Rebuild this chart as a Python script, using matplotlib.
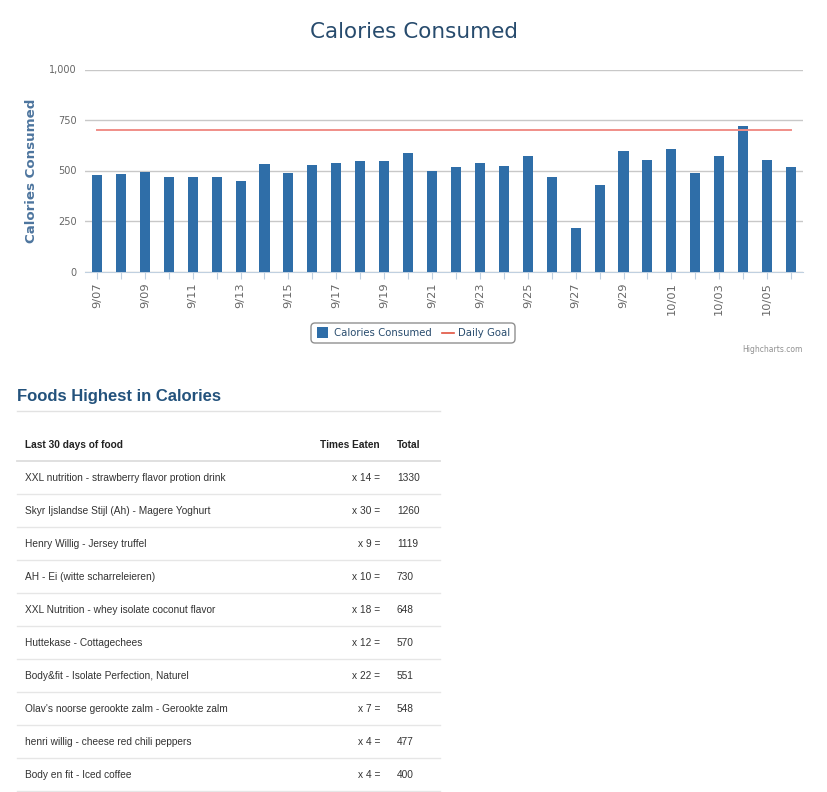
import matplotlib
matplotlib.use("Agg")
import matplotlib.pyplot as plt
from matplotlib.lines import Line2D
from matplotlib.patches import FancyBboxPatch, Rectangle
from matplotlib.ticker import FuncFormatter

# daily calories, 9/07 .. 10/06
dates = ["9/07", "9/08", "9/09", "9/10", "9/11", "9/12", "9/13", "9/14", "9/15", "9/16",
         "9/17", "9/18", "9/19", "9/20", "9/21", "9/22", "9/23", "9/24", "9/25", "9/26",
         "9/27", "9/28", "9/29", "9/30", "10/01", "10/02", "10/03", "10/04", "10/05", "10/06"]
calories = [479, 483, 492, 467, 470, 470, 446, 530, 487, 525,
            536, 548, 546, 587, 497, 516, 536, 521, 571, 470,
            215, 427, 597, 554, 604, 487, 574, 718, 554, 516]
daily_goal = 700

foods = ["XXL nutrition - strawberry flavor protion drink",
         "Skyr Ijslandse Stijl (Ah) - Magere Yoghurt",
         "Henry Willig - Jersey truffel",
         "AH - Ei (witte scharreleieren)",
         "XXL Nutrition - whey isolate coconut flavor",
         "Huttekase - Cottagechees",
         "Body&fit - Isolate Perfection, Naturel",
         "Olav's noorse gerookte zalm - Gerookte zalm",
         "henri willig - cheese red chili peppers",
         "Body en fit - Iced coffee"]
times_eaten = [14, 30, 9, 10, 18, 12, 22, 7, 4, 4]
totals = [1330, 1260, 1119, 730, 648, 570, 551, 548, 477, 400]

W, H = 828, 792
BAR = "#2f6ea8"
GOAL = "#f08e88"
TITLE = "#274b6d"

fig = plt.figure(figsize=(W / 100, H / 100), dpi=100)
fig.patch.set_facecolor("white")

# overlay axes in pixel coordinates for the page parts
page = fig.add_axes([0, 0, 1, 1])
page.set_xlim(0, W)
page.set_ylim(H, 0)
page.axis("off")

# chart
ax = fig.add_axes([85 / W, 1 - 271.5 / H, 718 / W, 202 / H])
x = range(len(dates))
ax.bar(x, calories, width=0.42, color=BAR, zorder=3, label="Calories Consumed")
ax.plot([0, len(dates) - 1], [daily_goal, daily_goal], color=GOAL, lw=1.4, zorder=4,
        label="Daily Goal")
ax.set_xlim(-0.5, len(dates) - 0.5)
ax.set_ylim(0, 1000)
ax.set_yticks([0, 250, 500, 750, 1000])
ax.yaxis.set_major_formatter(FuncFormatter(lambda v, p: f"{int(v):,}"))
ax.grid(axis="y", color="#c8c8c8", lw=1, zorder=0)
for s in ["top", "right", "left"]:
    ax.spines[s].set_visible(False)
ax.spines["bottom"].set_color("#c0d0e0")
ax.tick_params(axis="y", length=0, labelsize=7, labelcolor="#666666", pad=6)
ax.set_xticks(list(x))
ax.set_xticklabels([d if i % 2 == 0 else "" for i, d in enumerate(dates)], rotation=90,
                   fontsize=8.2, color="#666666")
ax.tick_params(axis="x", length=5, color="#c0d0e0", pad=3)
ax.set_ylabel("Calories Consumed", fontsize=9.6, fontweight="bold", color="#4d759e")
ax.yaxis.set_label_coords((38 - 85) / 718, 0.5)
ax.set_facecolor("white")

fig.text(414 / W, 1 - 32 / H, "Calories Consumed", ha="center", va="center",
         fontsize=15.5, color=TITLE)

# legend box
page.add_patch(FancyBboxPatch((311, 323), 204, 20, boxstyle="round,pad=0,rounding_size=4",
                              fc="white", ec="#909090", lw=1))
page.add_patch(Rectangle((317, 327), 11, 11, fc=BAR, ec="none"))
page.text(334, 333.5, "Calories Consumed", fontsize=7.3, color=TITLE, va="center")
page.add_line(Line2D([442, 454], [333, 333], color="#e0533f", lw=1.2))
page.text(458, 333.5, "Daily Goal", fontsize=7.3, color=TITLE, va="center")
page.text(803, 349, "Highcharts.com", fontsize=5.5, color="#909090", ha="right",
          va="center")

# table
tf = "Liberation Sans"
page.text(17, 396, "Foods Highest in Calories", fontsize=12, fontweight="bold",
          color="#23527c", va="center", family=tf)
page.add_line(Line2D([17, 440], [411, 411], color="#e2e2e2", lw=1))
page.text(25, 445, "Last 30 days of food", fontsize=7.3, fontweight="bold", color="#222222",
          va="center", family=tf)
page.text(380, 445, "Times Eaten", fontsize=7.3, fontweight="bold", color="#222222",
          va="center", ha="right", family=tf)
page.text(397, 445, "Total", fontsize=7.3, fontweight="bold", color="#222222",
          va="center", family=tf)
page.add_line(Line2D([17, 440], [461, 461], color="#dddddd", lw=1.3))

for i, (name, n, tot) in enumerate(zip(foods, times_eaten, totals)):
    y = 478 + 33 * i
    page.text(25, y, name, fontsize=7.3, color="#333333", va="center", family=tf)
    page.text(380, y, f"x {n} =", fontsize=7.3, color="#333333", va="center", ha="right",
              family=tf)
    page.text(397, y, str(tot), fontsize=7.3, color="#333333", va="center", family=tf)
    page.add_line(Line2D([17, 440], [y + 16, y + 16], color="#e6e6e6", lw=1))

fig.savefig("out.png", dpi=100, facecolor="white")
